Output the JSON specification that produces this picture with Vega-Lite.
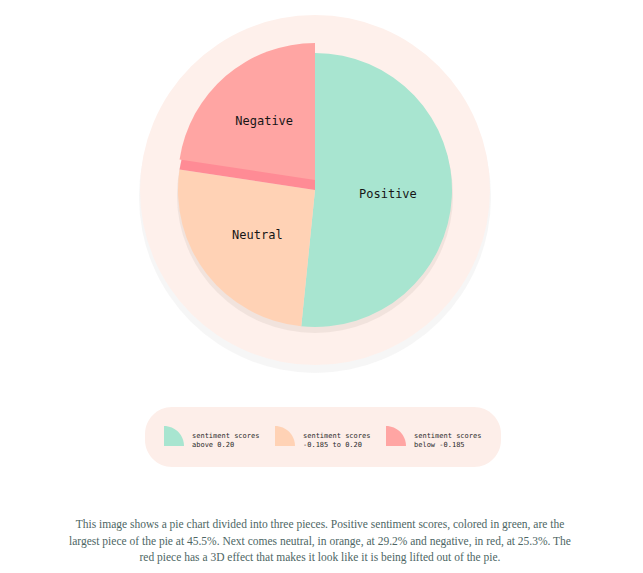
{
  "$schema": "https://vega.github.io/schema/vega-lite/v6.json",
  "width": 630,
  "height": 380,
  "padding": 0,
  "autosize": "pad",
  "background": "white",
  "title": {
    "text": [
      "This image shows a pie chart divided into three pieces. Positive sentiment scores, colored in green, are the",
      "largest piece of the pie at 45.5%. Next comes neutral, in orange, at 29.2% and negative, in red, at 25.3%. The",
      "red piece has a 3D effect that makes it look like it is being lifted out of the pie."
    ],
    "orient": "bottom",
    "anchor": "middle",
    "offset": 52,
    "dx": 5,
    "font": "Liberation Serif",
    "fontSize": 11.5,
    "fontWeight": "normal",
    "color": "#4d6664",
    "lineHeight": 16.5
  },
  "data": {
    "values": [
      {"category": "Positive", "share": 51.6},
      {"category": "Neutral", "share": 25.8},
      {"category": "Negative", "share": 22.6}
    ]
  },
  "layer": [
    {
      "data": {"values": [{"ring": "shadow"}]},
      "mark": {"type": "arc", "radius": 176, "yOffset": 7, "fill": "#ececec", "opacity": 0.45},
      "encoding": {}
    },
    {
      "data": {"values": [{"ring": "outer"}]},
      "mark": {"type": "arc", "radius": 175, "fill": "#fef0eb"},
      "encoding": {}
    },
    {
      "data": {"values": [{"ring": "pie shadow"}]},
      "mark": {"type": "arc", "radius": 138, "yOffset": 5, "fill": "#e3d3cd", "opacity": 0.45},
      "encoding": {}
    },
    {
      "mark": {"type": "arc", "radius": 137},
      "encoding": {
        "theta": {"field": "share", "type": "quantitative", "stack": true},
        "order": {"field": "category", "sort": "descending"},
        "color": {
          "condition": {"test": "datum.category == 'Negative'", "value": "#ff8b95"},
          "field": "category",
          "type": "nominal",
          "scale": {
            "domain": ["Positive", "Neutral", "Negative"],
            "range": ["#a8e5d0", "#ffd2b5", "#ffa5a3"]
          },
          "legend": {
            "title": null,
            "orient": "none",
            "legendX": 145,
            "legendY": 407,
            "direction": "horizontal",
            "columns": 3,
            "symbolType": "M-1,-1A2,2,0,0,1,1,1L-1,1Z",
            "symbolSize": 400,
            "symbolStrokeWidth": 0,
            "labelFont": "DejaVu Sans Mono",
            "labelFontSize": 7,
            "labelColor": "#2a2a2a",
            "labelLimit": 200,
            "labelOffset": 8,
            "columnPadding": 15,
            "padding": 19,
            "fillColor": "#fdeee9",
            "cornerRadius": 27,
            "labelExpr": "datum.value == 'Positive' ? ['sentiment scores', 'above 0.20'] : datum.value == 'Neutral' ? ['sentiment scores', '-0.185 to 0.20'] : ['sentiment scores', 'below -0.185']"
          }
        }
      }
    },
    {
      "mark": {"type": "arc", "radius": 137, "yOffset": -10},
      "encoding": {
        "theta": {"field": "share", "type": "quantitative", "stack": true},
        "order": {"field": "category", "sort": "descending"},
        "color": {
          "field": "category",
          "type": "nominal",
          "scale": {
            "domain": ["Positive", "Neutral", "Negative"],
            "range": ["#a8e5d0", "#ffd2b5", "#ffa5a3"]
          },
          "legend": {
            "title": null,
            "orient": "none",
            "legendX": 145,
            "legendY": 407,
            "direction": "horizontal",
            "columns": 3,
            "symbolType": "M-1,-1A2,2,0,0,1,1,1L-1,1Z",
            "symbolSize": 400,
            "symbolStrokeWidth": 0,
            "labelFont": "DejaVu Sans Mono",
            "labelFontSize": 7,
            "labelColor": "#2a2a2a",
            "labelLimit": 200,
            "labelOffset": 8,
            "columnPadding": 15,
            "padding": 19,
            "fillColor": "#fdeee9",
            "cornerRadius": 27,
            "labelExpr": "datum.value == 'Positive' ? ['sentiment scores', 'above 0.20'] : datum.value == 'Neutral' ? ['sentiment scores', '-0.185 to 0.20'] : ['sentiment scores', 'below -0.185']"
          }
        },
        "opacity": {"condition": {"test": "datum.category == 'Negative'", "value": 1}, "value": 0}
      }
    },
    {
      "mark": {"type": "text", "radius": 73, "font": "DejaVu Sans Mono", "fontSize": 12, "color": "#161616"},
      "encoding": {
        "theta": {"field": "share", "type": "quantitative", "stack": true},
        "order": {"field": "category", "sort": "descending"},
        "text": {"field": "category"},
        "opacity": {"condition": {"test": "datum.category == 'Negative'", "value": 0}, "value": 1}
      }
    },
    {
      "mark": {"type": "text", "radius": 78, "yOffset": -10, "font": "DejaVu Sans Mono", "fontSize": 12, "color": "#161616"},
      "encoding": {
        "theta": {"field": "share", "type": "quantitative", "stack": true},
        "order": {"field": "category", "sort": "descending"},
        "text": {"field": "category"},
        "opacity": {"condition": {"test": "datum.category == 'Negative'", "value": 1}, "value": 0}
      }
    }
  ],
  "config": {
    "view": {"stroke": null}
  }
}
